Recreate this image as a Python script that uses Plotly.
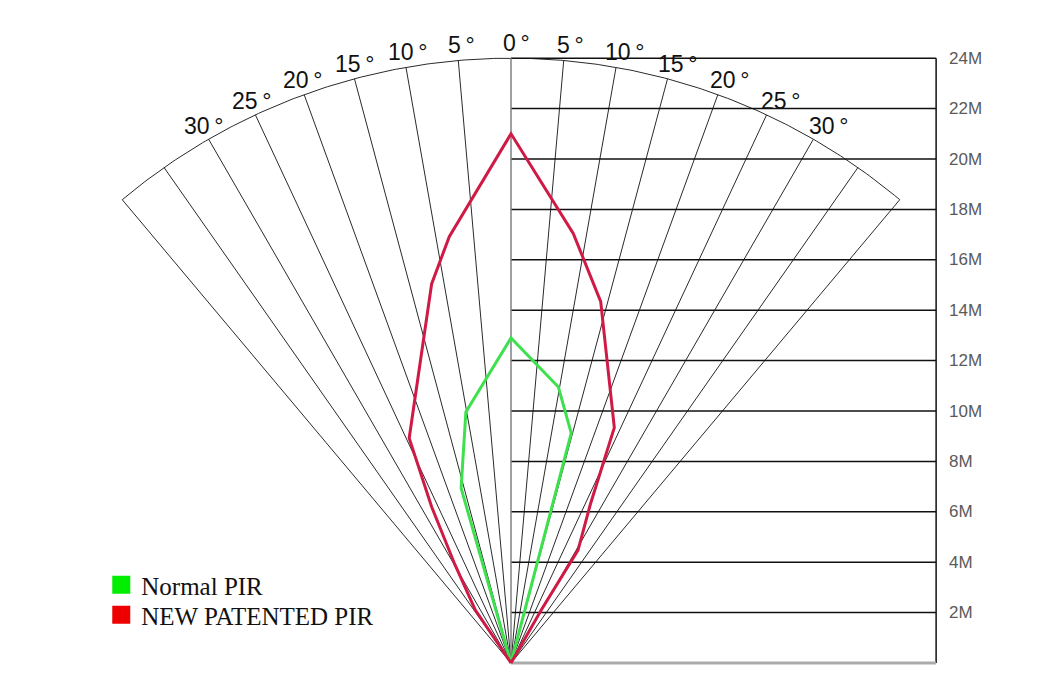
import numpy as np
import plotly.graph_objects as go

# ---------------- data ----------------
# distance rings / rows (metres)
distance_ticks = [2, 4, 6, 8, 10, 12, 14, 16, 18, 20, 22, 24]
distance_labels = ["2M", "4M", "6M", "8M", "10M", "12M", "14M", "16M", "18M", "20M", "22M", "24M"]
# fan rays (degrees either side of centre)
ray_angles = [-40, -35, -30, -25, -20, -15, -10, -5, 5, 10, 15, 20, 25, 30, 35, 40]
label_angles = [-30, -25, -20, -15, -10, -5, 0, 5, 10, 15, 20, 25, 30]
angle_labels = ["30", "25", "20", "15", "10", "5", "0", "5", "10", "15", "20", "25", "30"]
fan_radius = 24
box_right = 16.87

# detection patterns: lateral offset (m) and forward range (m)
normal_x = [0, -1.98, -1.79, 0.0, 1.88, 2.39, 0]
normal_y = [0, 6.94, 9.96, 12.9, 10.95, 9.12, 0]
patent_x = [0, -1.42, -2.22, -3.15, -4.04, -3.15, -2.45, 0.0, 2.47, 3.56, 4.10, 3.15, 2.66, 1.20, 0]
patent_y = [0, 2.11, 3.89, 6.20, 8.92, 15.04, 16.92, 21.0, 17.05, 14.34, 9.34, 6.30, 4.48, 2.10, 0]

# ---------------- figure ----------------
px_per_m = 25.2
ox, oy = 511, 663
W, H = 1044, 693

fig = go.Figure()

# rays
rx, ry = [], []
for a in ray_angles:
    t = np.radians(a)
    rx += [0, fan_radius * np.sin(t), None]
    ry += [0, fan_radius * np.cos(t), None]
fig.add_trace(go.Scatter(x=rx, y=ry, mode="lines", line=dict(color="#2a2a2a", width=1),
                         hoverinfo="skip", showlegend=False))

# arc
th = np.radians(np.linspace(-40, 40, 241))
fig.add_trace(go.Scatter(x=fan_radius * np.sin(th), y=fan_radius * np.cos(th), mode="lines",
                         line=dict(color="#2a2a2a", width=1), hoverinfo="skip", showlegend=False))

# horizontal rows on the right
hx, hy = [], []
for d in distance_ticks:
    hx += [0, box_right, None]
    hy += [d, d, None]
fig.add_trace(go.Scatter(x=hx, y=hy, mode="lines", line=dict(color="#111111", width=1.5),
                         hoverinfo="skip", showlegend=False))
# right border
fig.add_trace(go.Scatter(x=[box_right, box_right], y=[0, distance_ticks[-1]], mode="lines",
                         line=dict(color="#111111", width=1.5), hoverinfo="skip", showlegend=False))
# bottom line
fig.add_trace(go.Scatter(x=[0, box_right], y=[0, 0], mode="lines",
                         line=dict(color="#aaaaaa", width=3), hoverinfo="skip", showlegend=False))
# centre line
fig.add_trace(go.Scatter(x=[0, 0], y=[0, fan_radius], mode="lines",
                         line=dict(color="#808080", width=1.5), hoverinfo="skip", showlegend=False))

# patterns
fig.add_trace(go.Scatter(x=normal_x, y=normal_y, mode="lines",
                         line=dict(color="#3ee04e", width=3), showlegend=False, name="Normal PIR"))
fig.add_trace(go.Scatter(x=patent_x, y=patent_y, mode="lines",
                         line=dict(color="#cf1a45", width=3), showlegend=False, name="NEW PATENTED PIR"))

# legend entries (square swatches), one legend per row for exact spacing
fig.add_trace(go.Scatter(x=[None], y=[None], mode="markers", name="Normal PIR", legend="legend",
                         marker=dict(symbol="square", size=17, color="#00ee00",
                                     line=dict(color="#00ee00", width=2))))
fig.add_trace(go.Scatter(x=[None], y=[None], mode="markers", name="NEW PATENTED PIR", legend="legend2",
                         marker=dict(symbol="square", size=17, color="#ee0000",
                                     line=dict(color="#ee0000", width=2))))

# distance labels
for d, lab in zip(distance_ticks, distance_labels):
    fig.add_annotation(x=17.3, y=d, text=lab, showarrow=False, xanchor="left", yanchor="middle",
                       font=dict(family="Liberation Sans", size=17, color="#5a5a5a"))

# angle labels
for a, lab in zip(label_angles, angle_labels):
    t = np.radians(a)
    r = 24.62
    fig.add_annotation(x=r * np.sin(t), y=r * np.cos(t), text=lab + "\u2009°", showarrow=False,
                       xanchor="center", yanchor="middle", xshift=5 + a * 0.08,
                       font=dict(family="Liberation Sans", size=23, color="#111111"))

legend_font = dict(family="Liberation Serif", size=25, color="#111111")
fig.update_xaxes(range=[-ox / px_per_m, (W - ox) / px_per_m], visible=False, fixedrange=True)
fig.update_yaxes(range=[-(H - oy) / px_per_m, oy / px_per_m], visible=False, fixedrange=True)
fig.update_layout(
    width=W, height=H, margin=dict(l=0, r=0, t=0, b=0),
    paper_bgcolor="white", plot_bgcolor="white",
    legend=dict(x=0.097, y=1 - 585 / H, xanchor="left", yanchor="middle",
                bgcolor="rgba(0,0,0,0)", font=legend_font),
    legend2=dict(x=0.097, y=1 - 615 / H, xanchor="left", yanchor="middle",
                 bgcolor="rgba(0,0,0,0)", font=legend_font),
)

fig.write_html("out.html", post_script="document.body.style.margin='0';",
               config={"displayModeBar": False})
